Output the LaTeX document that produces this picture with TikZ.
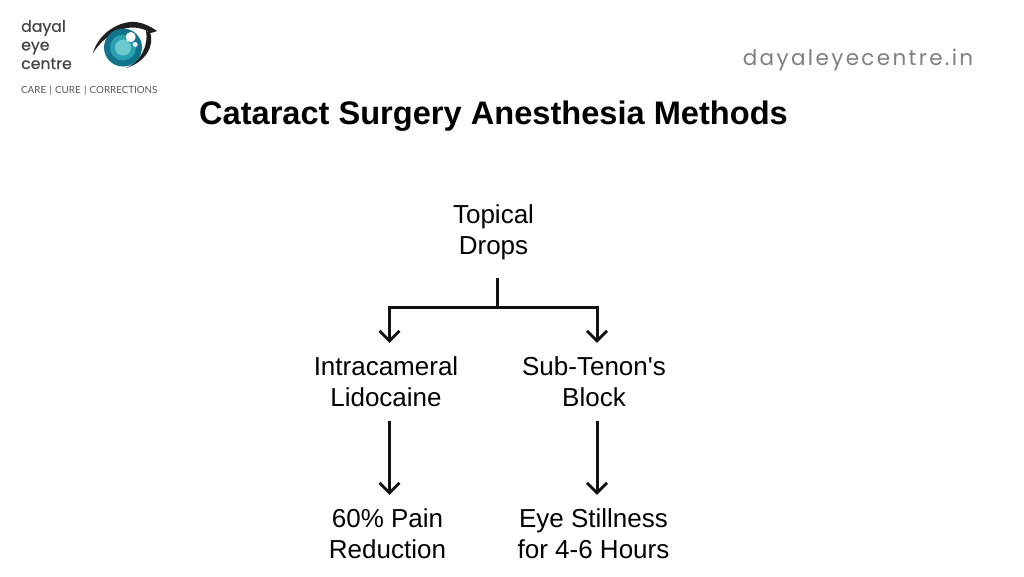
\documentclass[tikz,border=0pt]{standalone}
\usepackage{fontspec}
\setmainfont{Liberation Sans}
\newfontfamily\logofont[FakeBold=0.5]{Poppins}
\newfontfamily\tagfont{Lato}
\newfontfamily\urlfont[LetterSpace=11]{Poppins}
\definecolor{inkc}{HTML}{111111}
\definecolor{logogray}{HTML}{444444}
\definecolor{taggray}{HTML}{555555}
\definecolor{tealdark}{HTML}{12748A}
\definecolor{tealmid}{HTML}{2BA0B2}
\definecolor{teallight}{HTML}{6CC9CC}
\definecolor{urlgray}{HTML}{808080}
\tikzset{
  flow/.style={font=\fontsize{26}{31}\selectfont, align=center, text=black, inner sep=0pt, minimum height=78pt},
  conn/.style={draw=inkc, line width=3pt},
  tip/.style={-{Straight Barb[length=10pt,width=20pt,line width=2.8pt]}},
  logotext/.style={font=\logofont\fontsize{15.7}{18.6}\selectfont, text=logogray, align=left, inner sep=0pt, anchor=north west},
}
\usetikzlibrary{arrows.meta}
\begin{document}
\begin{tikzpicture}[x=1pt,y=-1pt]
\useasboundingbox (0,0) rectangle (1024,576);
\fill[white] (0,0) rectangle (1024,576);
% logo
\node[logotext] (brand) at (21,20) {dayal\\eye\\centre};
\node[font=\tagfont\fontsize{9.8}{12}\selectfont, text=taggray, inner sep=0pt, anchor=west] (tag) at (21,90.8) {CARE\,\,|\,\,CURE\,\,|\,\,CORRECTIONS};
\fill[black!88] (93,53) .. controls (97,38) and (112,24) .. (130,22) .. controls (140,21) and (150,26) .. (157,31)
  .. controls (154,32) and (152,33) .. (150,33) .. controls (148,31) and (144,29) .. (138,28)
  .. controls (122,25) and (104,36) .. (93,53) -- cycle;
\fill[black!88] (150,32) .. controls (155,45) and (146,62) .. (126,68) .. controls (140,62) and (149,46) .. (146,31) -- cycle;
\fill[tealdark] (123,47.5) circle (19);
\fill[tealmid] (123,47.5) circle (13);
\fill[teallight] (123,47.5) circle (8);
\fill[white] (130.7,37) circle (5);
\fill[white] (135.3,44.5) circle (2.4);
% url
\node[font=\urlfont\fontsize{21.5}{26}\selectfont, text=urlgray, inner sep=0pt] (url) at (858,60) {dayaleyecentre.in};
% title
\node[font=\bfseries\fontsize{32.6}{38}\selectfont, text=black, inner sep=0pt] (title) at (493.5,116.5) {Cataract Surgery Anesthesia Methods};
% flow
\node[flow, minimum height=91pt] (topical) at (493.5,232.5) {Topical\\Drops};
\node[flow] (intra) at (386,382) {Intracameral\\Lidocaine};
\node[flow] (subt) at (594,382) {Sub-Tenon\textquotesingle s\\Block};
\node[flow] (pain) at (387.5,534) {60\% Pain\\Reduction};
\node[flow] (still) at (593.5,534) {Eye Stillness\\for 4-6 Hours};
\coordinate (junc) at (497,307);
\draw[conn] ([xshift=3.5pt]topical.south) -- (junc);
\draw[conn,tip] (junc) -| ([xshift=3.5pt]intra.north);
\draw[conn,tip] (junc) -| ([xshift=3pt]subt.north);
\draw[conn,tip] ([xshift=3.5pt]intra.south) -- ([xshift=2pt]pain.north);
\draw[conn,tip] ([xshift=3pt]subt.south) -- ([xshift=3.5pt]still.north);
\end{tikzpicture}
\end{document}
